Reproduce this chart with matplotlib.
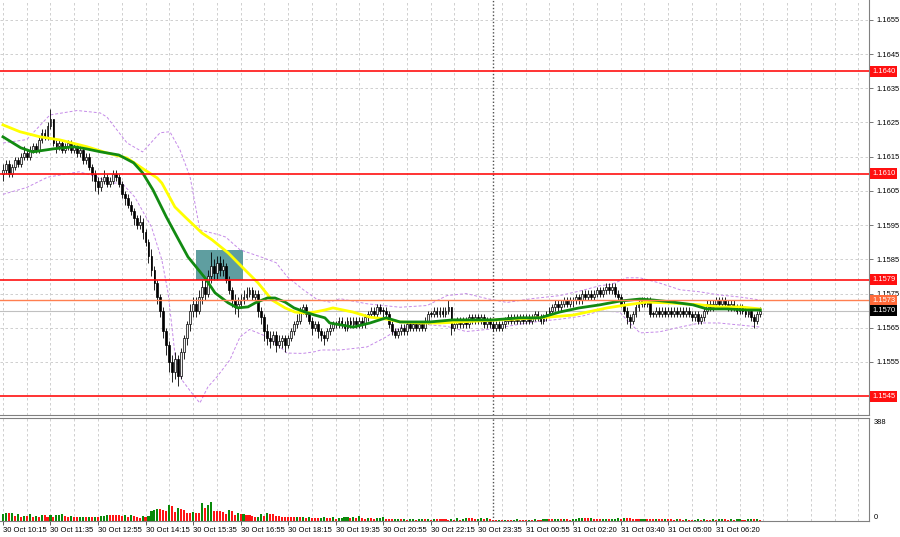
# EURUSD M5 chart with levels, MAs, bands and volumes

import numpy as np
import matplotlib.pyplot as plt
import matplotlib.transforms as mtransforms
from matplotlib.patches import Rectangle

plt.rcParams['font.family'] = ['Liberation Sans', 'DejaVu Sans']

# prices in pips above 1.1500, one value per 5-minute bar (30 Oct 10:15 -> 31 Oct 07:35)
first_open = 110
closes = [111, 113, 110, 112, 114, 113, 115, 116, 115, 117, 118, 117, 120, 122, 121, 124,
          126, 119, 118, 119, 117, 118, 119, 117, 118, 116, 117, 114, 115, 112, 110, 108,
          106, 108, 109, 107, 108, 110, 109, 107, 104, 103, 101, 99, 97, 95, 96, 93,
          90, 86, 82, 78, 74, 70, 64, 60, 55, 52, 56, 51, 58, 62, 66, 70,
          72, 70, 74, 77, 75, 80, 83, 81, 84, 82, 83, 79, 76, 73, 71, 72,
          73, 74, 75, 76, 74, 75, 70, 68, 64, 62, 61, 63, 60, 61, 62, 60,
          62, 64, 66, 67, 70, 71, 69, 67, 65, 66, 64, 63, 62, 64, 65, 66,
          66, 67, 66, 65, 67, 66, 67, 66, 67, 66, 68, 69, 70, 69, 71, 70,
          70, 69, 66, 64, 63, 64, 65, 64, 66, 65, 66, 65, 66, 65, 67, 69,
          69, 70, 69, 70, 69, 70, 71, 65, 66, 67, 66, 67, 66, 68, 67, 68,
          67, 68, 66, 67, 66, 65, 66, 65, 66, 67, 68, 67, 68, 67, 68, 67,
          68, 67, 68, 69, 68, 67, 68, 69, 70, 71, 72, 71, 72, 73, 72, 73,
          73, 74, 73, 75, 74, 75, 74, 75, 76, 75, 76, 77, 76, 77, 75, 74,
          72, 70, 68, 67, 69, 71, 72, 73, 72, 73, 69, 69, 70, 69, 70, 69,
          70, 69, 70, 69, 70, 69, 70, 69, 68, 69, 67, 68, 70, 72, 71, 72,
          73, 72, 73, 72, 71, 72, 71, 70, 71, 70, 69, 70, 68, 67, 69, 70]
highs = [113, 114, 114, 113, 115, 115, 116, 118, 117, 118, 119, 119, 121, 123, 123, 125,
         129, 126, 120, 120, 120, 119, 120, 120, 119, 119, 118, 118, 116, 116, 113, 111,
         109, 109, 111, 110, 109, 111, 111, 110, 108, 105, 104, 102, 100, 98, 98, 97,
         94, 91, 88, 83, 79, 75, 71, 65, 61, 57, 58, 57, 59, 63, 67, 72,
         74, 74, 76, 79, 79, 82, 87, 85, 86, 86, 85, 84, 80, 77, 75, 74,
         75, 76, 77, 77, 77, 76, 76, 71, 69, 66, 64, 64, 64, 63, 63, 63,
         63, 65, 67, 69, 71, 72, 72, 70, 68, 67, 67, 65, 64, 65, 66, 67,
         67, 68, 68, 67, 68, 68, 68, 68, 68, 68, 69, 70, 71, 71, 72, 72,
         71, 71, 70, 67, 65, 65, 66, 66, 67, 67, 67, 67, 67, 67, 68, 70,
         70, 71, 71, 71, 71, 71, 73, 71, 67, 68, 68, 68, 68, 69, 69, 69,
         69, 69, 69, 68, 68, 67, 67, 67, 67, 68, 69, 69, 69, 69, 69, 69,
         69, 69, 69, 70, 70, 69, 69, 70, 71, 72, 73, 73, 73, 74, 74, 74,
         74, 75, 75, 76, 76, 76, 76, 76, 77, 77, 77, 78, 78, 78, 78, 76,
         75, 73, 71, 69, 70, 72, 73, 74, 74, 74, 74, 70, 71, 71, 71, 71,
         71, 71, 71, 71, 71, 71, 71, 71, 70, 70, 70, 69, 71, 73, 73, 73,
         74, 74, 74, 74, 73, 73, 73, 72, 72, 72, 71, 71, 71, 69, 70, 71]
lows = [108, 110, 109, 109, 111, 112, 112, 114, 114, 114, 116, 116, 116, 119, 120, 120,
        123, 118, 116, 117, 116, 116, 117, 116, 116, 115, 115, 113, 113, 111, 108, 105,
        104, 105, 107, 106, 106, 107, 108, 106, 103, 101, 100, 98, 95, 94, 94, 91,
        89, 84, 80, 76, 72, 68, 62, 57, 52, 49, 50, 48, 50, 56, 60, 64,
        68, 68, 69, 72, 73, 74, 78, 79, 79, 80, 80, 78, 75, 71, 69, 68,
        71, 72, 73, 74, 73, 73, 68, 66, 61, 60, 59, 60, 58, 59, 59, 58,
        59, 61, 63, 65, 66, 69, 68, 66, 63, 64, 62, 61, 60, 61, 63, 64,
        65, 65, 65, 64, 64, 65, 65, 65, 65, 65, 65, 67, 68, 68, 68, 69,
        68, 68, 65, 63, 62, 62, 63, 63, 63, 64, 64, 64, 64, 64, 64, 66,
        68, 68, 68, 68, 68, 68, 69, 63, 64, 65, 65, 65, 65, 65, 66, 66,
        66, 66, 65, 65, 65, 64, 64, 64, 64, 65, 66, 66, 66, 66, 66, 66,
        66, 66, 66, 67, 67, 66, 66, 67, 68, 69, 70, 70, 70, 71, 71, 71,
        71, 72, 72, 72, 73, 73, 73, 73, 74, 74, 74, 75, 75, 75, 74, 73,
        71, 69, 66, 65, 66, 68, 70, 71, 71, 71, 68, 68, 68, 68, 68, 68,
        68, 68, 68, 68, 68, 68, 68, 68, 67, 67, 66, 66, 67, 69, 70, 70,
        71, 71, 71, 71, 70, 70, 70, 69, 69, 69, 68, 68, 67, 65, 66, 68]
volumes = [28, 30, 30, 31, 20, 26, 15, 18, 18, 26, 15, 20, 16, 22, 22, 17,
           24, 17, 22, 25, 27, 18, 17, 20, 16, 14, 16, 17, 14, 16, 14, 16,
           15, 18, 20, 25, 25, 25, 25, 22, 20, 24, 17, 22, 19, 15, 12, 18,
           15, 18, 40, 42, 46, 46, 45, 40, 62, 58, 35, 52, 47, 44, 31, 30,
           36, 32, 30, 70, 50, 64, 73, 40, 40, 39, 36, 28, 44, 38, 24, 30,
           26, 28, 25, 22, 20, 16, 17, 28, 20, 30, 26, 26, 20, 18, 16, 16,
           16, 15, 14, 15, 14, 16, 13, 14, 13, 13, 12, 13, 14, 13, 12, 14,
           9, 10, 12, 14, 15, 13, 15, 12, 18, 10, 9, 11, 10, 9, 12, 13,
           14, 8, 7, 6, 7, 8, 6, 7, 5, 6, 8, 5, 6, 8, 6, 7,
           5, 8, 8, 8, 8, 6, 5, 6, 5, 12, 5, 6, 10, 10, 10, 8,
           9, 10, 9, 10, 6, 5, 4, 5, 4, 5, 4, 4, 5, 7, 4, 4,
           4, 5, 4, 8, 5, 4, 6, 7, 6, 6, 7, 8, 6, 8, 7, 5,
           6, 7, 10, 12, 11, 10, 11, 9, 8, 7, 8, 9, 7, 8, 9, 10,
           8, 12, 12, 10, 8, 8, 7, 8, 9, 9, 8, 6, 9, 8, 7, 8,
           8, 6, 5, 7, 6, 5, 7, 5, 4, 5, 6, 5, 7, 5, 4, 6,
           5, 6, 8, 6, 5, 7, 5, 6, 7, 5, 4, 6, 8, 6, 7, 5]

time_labels = ['30 Oct 10:15', '30 Oct 11:35', '30 Oct 12:55', '30 Oct 14:15',
               '30 Oct 15:35', '30 Oct 16:55', '30 Oct 18:15', '30 Oct 19:35',
               '30 Oct 20:55', '30 Oct 22:15', '30 Oct 23:35', '31 Oct 00:55',
               '31 Oct 02:20', '31 Oct 03:40', '31 Oct 05:00', '31 Oct 06:20']
label_step = 16
grid_step = 8
day_break = 165          # 31 Oct 00:00

# indicator lines (bar index, pips)
green_bars = [0, 6, 10, 17, 24, 28, 33, 39, 44, 47, 50.5, 55, 58.6, 62.3, 68, 71.4,
              75.8, 79, 82.5, 85, 89, 91.6, 95, 98, 101.7, 105, 108.4, 110, 118, 123.6,
              129, 133.7, 143.8, 151.5, 165, 174, 180.8, 187.5, 194, 201, 207.7, 214.5,
              219, 225.6, 232.3, 237, 243.8, 250.5, 255]
green_vals = [120.8, 117.6, 116.4, 117.3, 117.9, 117.3, 116.4, 115.5, 113.2, 110.3, 105.3,
              97.4, 91.6, 85.7, 79.6, 75.2, 72.3, 70.8, 71.1, 72.3, 73.7, 73.7, 72.5, 70.8,
              69.6, 68.7, 67.9, 66.4, 65.2, 66.4, 67.9, 66.7, 66.7, 67.3, 67.3, 67.9, 67.9,
              69.6, 70.8, 71.7, 72.8, 73.4, 73.1, 72.5, 71.7, 70.5, 70.5, 70.2, 70.2]
yellow_bars = [0, 5.7, 12.5, 19.2, 28.3, 35, 41.8, 47.8, 51.9, 53.5, 57.9, 61.3, 67, 70.4,
               75.8, 81.5, 85.9, 90.6, 95, 98.3, 101.7, 105, 108.4, 111.1, 117.8, 123.6,
               129.3, 133.7, 140.4, 147.1, 153.9, 160.6, 167.3, 174, 180.8, 191.9, 203.4,
               210.1, 216.8, 225.6, 234.7, 241.4, 248.1, 254.9]
yellow_vals = [124.3, 122.3, 120.8, 119.9, 117.9, 116.1, 114.6, 111.1, 108.8, 107.3, 100.3,
               97.4, 92.7, 90.7, 86.9, 81.9, 78.1, 73.1, 70.8, 69.6, 69.3, 69.6, 70.2, 70.8,
               69.6, 68.1, 67.5, 66.7, 66.4, 66.4, 66.7, 67.0, 67.3, 67.6, 67.9, 68.7, 70.8,
               71.7, 72.5, 72.2, 71.7, 71.1, 71.1, 70.5]
upper_bars = [0, 8, 15.8, 25, 32.7, 35, 41.8, 47, 52.9, 56.2, 59.6, 63, 66.3, 73, 75, 79.8,
              87.5, 92, 95.6, 101, 105.7, 110, 113.5, 122.6, 133.7, 142.8, 149.5, 156, 163,
              169.7, 178, 187.5, 195, 201, 205, 210, 214.5, 221, 228, 234.7, 241, 248, 255]
upper_vals = [119, 120, 127.2, 128.5, 127.8, 126.6, 119, 116.4, 122, 122.3, 117, 109.1, 93.6,
              92.1, 91.5, 87.8, 85.5, 84, 80, 76.2, 73.3, 72.5, 73.5, 72, 71, 71.5, 74.4, 75,
              73.5, 72.4, 73.5, 74.4, 75.9, 77.3, 77.7, 79.6, 79.6, 78.1, 76.1, 75.5, 74.6,
              74, 73.1]
lower_bars = [0, 8, 15, 25.6, 32, 36, 40, 44.4, 50, 53.5, 55.6, 57, 58, 60.3, 63.6, 66.3,
              69, 72, 76.4, 79.8, 83, 90, 95.6, 101, 105, 107, 113.5, 122.6, 129, 133.7,
              142.8, 149.5, 156, 163, 169.7, 178, 187.5, 195, 201, 207.7, 210, 214.5, 221,
              228, 234.7, 241, 248, 255]
lower_vals = [104, 106, 109, 110.6, 109, 107.3, 107.3, 103.2, 94.5, 84.8, 75.2, 64.4, 56.5,
              49.7, 45.9, 43, 47.7, 50.6, 55.6, 62.3, 64.5, 62, 57.6, 57.5, 58, 58.5, 58.5,
              59.4, 62.3, 65, 65.9, 65.4, 63.9, 64.5, 65.4, 66.6, 67.5, 68.4, 69.9, 69.6,
              67.3, 63.5, 63.8, 65.2, 66.4, 66.4, 65.8, 65.2]

red_levels = [1.1640, 1.1610, 1.1579, 1.1545]
orange_level = 1.1573
last_price = 1.1570
price_ticks = [1.1555, 1.1565, 1.1575, 1.1585, 1.1595, 1.1605,
               1.1615, 1.1625, 1.1635, 1.1645, 1.1655]
volume_max_label = 388

# blue zone (bars, price)
box_start, box_end = 65, 80.8
box_low, box_high = 1.1579, 1.15877


def to_price(p):
    return 1.15 + np.asarray(p, dtype=float) / 10000


c = to_price(closes)
o = np.r_[to_price(first_open), c[:-1]]
h = np.maximum(to_price(highs), np.maximum(o, c))
l = np.minimum(to_price(lows), np.minimum(o, c))
idx = np.arange(len(c))

x_min, x_max = -1.0, 291.6
small = 5.4

fig = plt.figure(figsize=(9, 5.37), dpi=100)
ax = fig.add_axes([0, 1 - 415 / 537, 869 / 900, 415 / 537])
vax = fig.add_axes([0, 1 - 521 / 537, 869 / 900, 103 / 537])

grid_kw = dict(color='#c8c8c8', lw=0.6, ls=(0, (3, 3)), zorder=0)
for a in (ax, vax):
    a.set_xlim(x_min, x_max)
    for b in range(0, int(x_max) + 1, grid_step):
        a.axvline(b, **grid_kw)
    a.axvline(day_break, color='#505050', lw=1.0, ls=(0, (1, 1.5)), zorder=0.5)
    a.spines['left'].set_visible(False)
    for s in ('right', 'bottom', 'top'):
        a.spines[s].set_color('#808080')

ax.spines['top'].set_visible(False)

# price panel
ax.set_ylim(1.15395, 1.16608)
for t in price_ticks:
    ax.axhline(t, **grid_kw)

ax.add_patch(Rectangle((box_start, box_low), box_end - box_start, box_high - box_low,
                       facecolor='#5f9ea0', edgecolor='none', zorder=1))

ax.plot(upper_bars, to_price(upper_vals), color='#c58ae8', lw=0.7, ls=(0, (3, 2)), zorder=1.5)
ax.plot(lower_bars, to_price(lower_vals), color='#c58ae8', lw=0.7, ls=(0, (3, 2)), zorder=1.5)

ax.axhline(last_price, color='#c0c0c0', lw=0.8, zorder=1.6)

up = c > o
ax.vlines(idx, l, h, color='black', lw=0.6, zorder=2)
body = np.maximum(np.abs(c - o), 0.00002)
ax.bar(idx[up], body[up], bottom=o[up], width=0.62, color='#f0f0f0',
       edgecolor='black', lw=0.5, zorder=2.5)
ax.bar(idx[~up], body[~up], bottom=np.minimum(o, c)[~up], width=0.62, color='black',
       edgecolor='black', lw=0.5, zorder=2.5)

ax.plot(yellow_bars, to_price(yellow_vals), color='#ffff00', lw=2.0, zorder=3)
ax.plot(green_bars, to_price(green_vals), color='#128a12', lw=2.0, zorder=3.2)

for lv in red_levels:
    ax.axhline(lv, color='#ff1010', lw=1.2, zorder=3.5)
ax.axhline(orange_level, color='#ff7f50', lw=1.0, zorder=3.5)

ax.yaxis.tick_right()
ax.set_yticks(price_ticks)
ax.set_yticklabels([f'{t:.4f}' for t in price_ticks], fontsize=small)
ax.tick_params(axis='y', length=3, width=0.6, color='#606060', pad=2)
ax.set_xticks([])

trans = mtransforms.blended_transform_factory(ax.transAxes, ax.transData)
tags = [(lv, '#ff1010', 'white') for lv in red_levels]
tags += [(orange_level, '#ff6a3a', 'white'), (last_price, 'black', 'white')]
for lv, fc, tc in tags:
    ax.text(1.0035, lv, f'{lv:.4f}', transform=trans, ha='left', va='center',
            fontsize=small, color=tc, zorder=5, clip_on=False,
            bbox=dict(boxstyle='square,pad=0.25', fc=fc, ec='none'))

# volume panel
vol = np.array(volumes)
vcol = ['#0a8a0a'] + ['#0a8a0a' if vol[i] > vol[i - 1] else '#ff1414' for i in range(1, len(vol))]
vax.bar(idx, vol, width=0.7, color=vcol, zorder=2)
vax.set_ylim(0, 404)
vax.set_yticks([])
vtrans = mtransforms.blended_transform_factory(vax.transAxes, vax.transData)
vax.text(1.005, volume_max_label, str(volume_max_label), transform=vtrans,
         ha='left', va='center', fontsize=small)
vax.text(1.005, 14, '0', transform=vtrans, ha='left', va='center', fontsize=small)

tick_pos = [i * label_step for i in range(len(time_labels))]
vax.set_xticks(tick_pos)
vax.set_xticklabels(time_labels, fontsize=5.5)
for lbl in vax.get_xticklabels():
    lbl.set_horizontalalignment('left')
vax.tick_params(axis='x', length=3, width=0.6, color='#404040', pad=1.5)

fig.savefig('out.png', dpi=100)
